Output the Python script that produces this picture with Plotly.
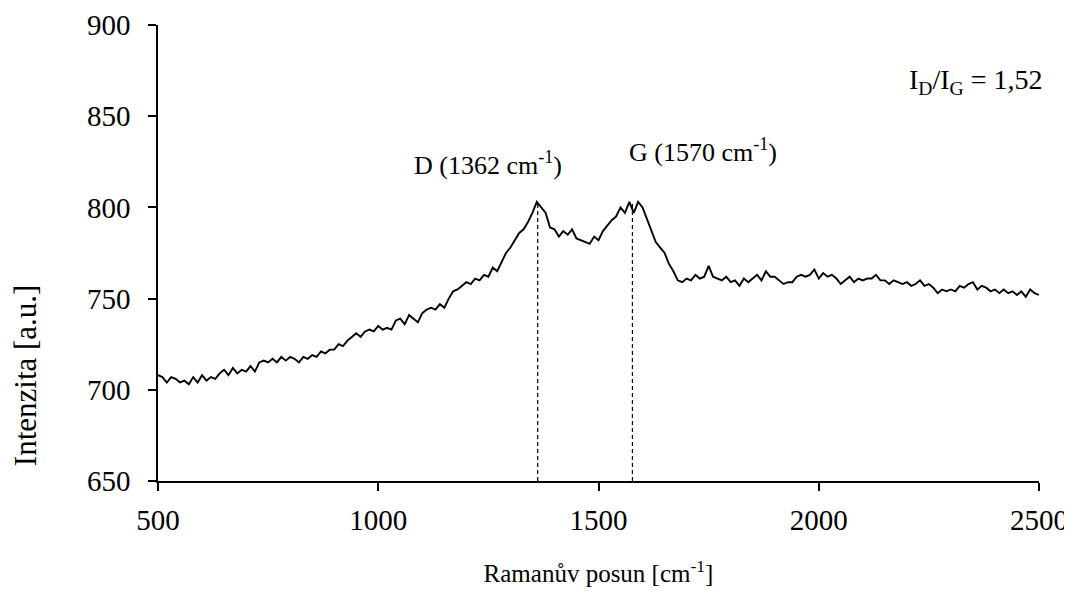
import plotly.graph_objects as go

# Raman spectrum (10 cm-1 step)
raman_shift = list(range(500, 2501, 10))
intensity = [
    708, 707, 704, 707, 706, 704, 705, 703, 707, 704,
    708, 705, 707, 706, 709, 711, 708, 712, 709, 711,
    710, 713, 710, 715, 716, 715, 717, 715, 718, 716,
    718, 717, 715, 718, 717, 719, 718, 721, 720, 722,
    722, 725, 724, 727, 729, 731, 729, 732, 733, 732,
    735, 733, 734, 733, 738, 739, 736, 741, 739, 737,
    742, 744, 745, 744, 747, 745, 750, 754, 755, 757,
    759, 758, 761, 760, 763, 762, 767, 765, 770, 775,
    778, 782, 786, 788, 792, 797, 803, 800, 797, 789,
    788, 784, 787, 785, 788, 783, 782, 781, 780, 784,
    782, 787, 790, 793, 795, 800, 797, 803, 797, 803,
    800, 794, 787, 781, 778, 775, 769, 765, 760, 759,
    761, 760, 763, 761, 762, 768, 762, 761, 760, 762,
    759, 760, 757, 761, 759, 761, 763, 760, 765, 762,
    762, 760, 758, 759, 759, 762, 763, 762, 763, 766,
    761, 764, 762, 763, 761, 758, 760, 762, 759, 761,
    760, 761, 761, 763, 760, 760, 758, 760, 759, 758,
    759, 757, 758, 760, 757, 758, 756, 753, 755, 754,
    755, 754, 757, 756, 758, 759, 755, 757, 756, 754,
    755, 753, 755, 753, 754, 752, 754, 751, 755, 753,
    752,
]

# peak markers (position, height)
peak_positions = [1362, 1577]
peak_heights = [803, 803]
peak_labels = ["D (1362 cm<sup>-1</sup>)", "G (1570 cm<sup>-1</sup>)"]
label_x = [1249, 1737]
label_y = [824, 831]

ratio_text = "I<sub>D</sub>/I<sub>G</sub> = 1,52"

FONT = "Liberation Serif, Times New Roman, serif"

fig = go.Figure()

fig.add_trace(
    go.Scatter(
        x=raman_shift,
        y=intensity,
        mode="lines",
        line=dict(color="black", width=1.9),
        showlegend=False,
    )
)

for px, py in zip(peak_positions, peak_heights):
    fig.add_trace(
        go.Scatter(
            x=[px, px],
            y=[650, py],
            mode="lines",
            line=dict(color="black", width=1.2, dash="4px,3px"),
            showlegend=False,
        )
    )

for text, lx, ly in zip(peak_labels, label_x, label_y):
    fig.add_annotation(
        x=lx, y=ly, text=text, showarrow=False,
        font=dict(family=FONT, size=26, color="black"),
        xanchor="center", yanchor="middle",
    )

fig.add_annotation(
    x=2358, y=869, text=ratio_text, showarrow=False,
    font=dict(family=FONT, size=28, color="black"),
    xanchor="center", yanchor="middle",
)

fig.add_annotation(
    xref="paper", yref="paper", x=-0.151, y=0.232,
    text="Intenzita [a.u.]", textangle=-90, showarrow=False,
    font=dict(family=FONT, size=31, color="black"),
    xanchor="center", yanchor="middle",
)

axis_common = dict(
    showline=True, linecolor="black", linewidth=1.5,
    ticks="outside", ticklen=8, tickwidth=1.5, tickcolor="black",
    showgrid=False, zeroline=False, automargin=False,
    tickfont=dict(family=FONT, size=29, color="black"),
)

# the page body adds an 8 px margin, so the figure is sized to fit inside it
fig.update_layout(
    width=1064,
    height=583,
    margin=dict(l=150, r=33, t=17, b=110),
    paper_bgcolor="white",
    plot_bgcolor="white",
    font=dict(family=FONT, color="black"),
    xaxis=dict(
        range=[500, 2500], dtick=500, ticklabelstandoff=4,
        title=dict(text="Ramanův posun [cm<sup>-1</sup>]",
                   font=dict(family=FONT, size=25, color="black"), standoff=30),
        **axis_common,
    ),
    yaxis=dict(range=[650, 900], dtick=50, ticklabelstandoff=12, **axis_common),
)

fig.write_html("out.html")
